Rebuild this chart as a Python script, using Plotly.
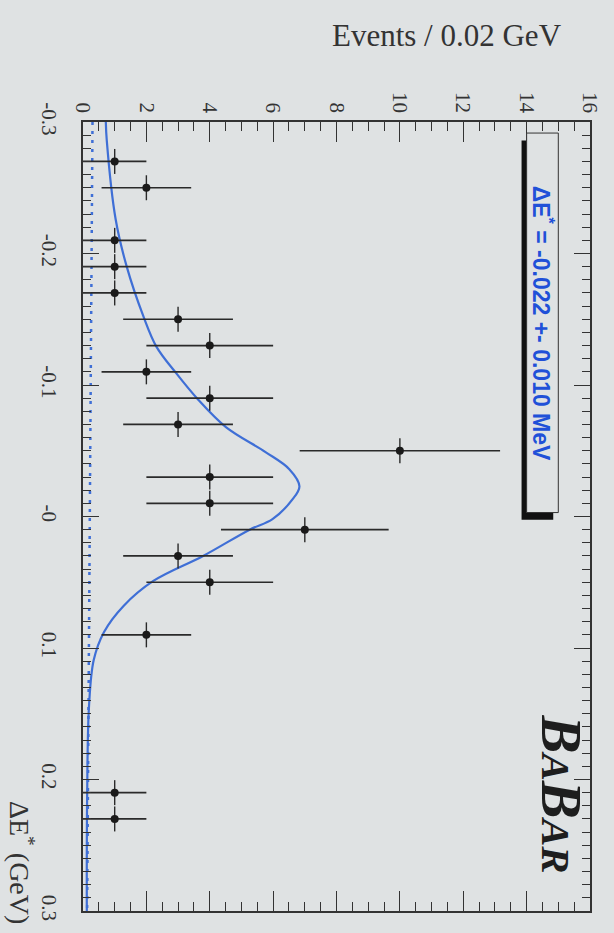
import numpy as np
import plotly.graph_objects as go

# ---- data ----
bin_centers = [-0.29, -0.27, -0.25, -0.23, -0.21, -0.19, -0.17, -0.15, -0.13, -0.11,
               -0.09, -0.07, -0.05, -0.03, -0.01, 0.01, 0.03, 0.05, 0.07, 0.09,
               0.11, 0.13, 0.15, 0.17, 0.19, 0.21, 0.23, 0.25, 0.27, 0.29]
counts = [0, 1, 2, 0, 1, 1, 1, 3, 4, 2,
          4, 3, 10, 4, 4, 7, 3, 4, 0, 2,
          0, 0, 0, 0, 0, 1, 1, 0, 0, 0]

curve_de = [-0.300, -0.286, -0.226, -0.190, -0.152, -0.129, -0.109, -0.089, -0.068,
            -0.049, -0.036, -0.023, -0.013, 0.002, 0.010, 0.030, 0.049, 0.068,
            0.088, 0.109, 0.144, 0.215, 0.300]
curve_n = [0.72, 0.75, 1.03, 1.38, 1.91, 2.32, 2.94, 3.63, 4.51,
           5.76, 6.51, 6.83, 6.61, 5.98, 5.26, 3.79, 2.22, 1.28,
           0.66, 0.34, 0.19, 0.13, 0.12]

bkg_de = [-0.30, 0.30]
bkg_n = [0.30, 0.13]

events_ticks = [0, 2, 4, 6, 8, 10, 12, 14, 16]
de_ticks = [-0.3, -0.2, -0.1, 0.0, 0.1, 0.2, 0.3]
de_ticktext = ["-0.3", "-0.2", "-0.1", "-0", "0.1", "0.2", "0.3"]

fit_label = "ΔE<sup>*</sup> = -0.022 +- 0.010 MeV"

# ---- figure ----
BG = "#dfe2e3"
INK = "#2a2a2a"
BLUE = "#3f6fd6"

pts_de = [d for d, c in zip(bin_centers, counts) if c > 0]
pts_n = [c for c in counts if c > 0]
pts_err = [float(np.sqrt(c)) for c in pts_n]

fig = go.Figure()

fig.add_trace(go.Scatter(
    x=bkg_n, y=bkg_de, mode="lines",
    line=dict(color=BLUE, width=2.5, dash="3px,6px"),
    hoverinfo="skip", showlegend=False))

fig.add_trace(go.Scatter(
    x=curve_n, y=curve_de, mode="lines",
    line=dict(color=BLUE, width=2.2, shape="spline", smoothing=1.0),
    hoverinfo="skip", showlegend=False))

fig.add_trace(go.Scatter(
    x=pts_n, y=pts_de, mode="markers",
    marker=dict(color="#1a1a1a", size=8),
    error_x=dict(type="data", array=pts_err, color=INK, thickness=1.7, width=0),
    error_y=dict(type="constant", value=0.0095, color=INK, thickness=1.4, width=0),
    showlegend=False))

# legend-like box with shadow (in axis coordinates)
fig.add_shape(type="rect", xref="x", yref="y", x0=13.84, x1=14.84, y0=-0.286, y1=0.0025,
              fillcolor="#111111", line=dict(width=0), layer="above")
fig.add_shape(type="rect", xref="x", yref="y", x0=14.0, x1=15.0, y0=-0.2916, y1=-0.003,
              fillcolor=BG, line=dict(color="#333333", width=1), layer="above")

fig.add_annotation(x=14.5, y=-0.147, xref="x", yref="y", text="<b>" + fit_label + "</b>",
                   textangle=90, showarrow=False,
                   font=dict(family="Liberation Sans, Arial", size=23, color="#2050d8"))

fig.add_annotation(x=15.1, y=0.211, xref="x", yref="y",
                   text="<b><i>B<span style='font-size:41px'>A</span>B<span style='font-size:41px'>AR</span></i></b>",
                   textangle=90, showarrow=False,
                   font=dict(family="Liberation Serif, Times New Roman", size=57, color="#1e1e1e"))

fig.add_annotation(x=0.717, y=1.11, xref="paper", yref="paper", yanchor="middle", xanchor="center",
                   text="Events / 0.02 GeV", showarrow=False,
                   font=dict(family="Liberation Serif, Times New Roman", size=31, color="#333333"))

fig.add_annotation(x=-0.12, y=0.062, xref="paper", yref="paper", xanchor="center", yanchor="middle",
                   text="ΔE<sup>*</sup> (GeV)", textangle=90, showarrow=False,
                   font=dict(family="Liberation Serif, Times New Roman", size=28, color="#333333"))

tickfont = dict(family="Liberation Serif, Times New Roman", size=21, color="#333333")

fig.update_layout(
    width=614, height=933,
    margin=dict(l=83, r=19, t=122, b=21),
    paper_bgcolor=BG, plot_bgcolor=BG,
    xaxis=dict(range=[0, 16], side="top", tickmode="array", tickvals=events_ticks,
               ticks="inside", ticklen=20, tickwidth=1.2, tickcolor="#333333",
               minor=dict(dtick=0.5, ticks="inside", ticklen=9, tickcolor="#333333", tickwidth=1),
               tickangle=90, tickfont=tickfont, showgrid=False, zeroline=False,
               showline=True, linecolor="#333333", linewidth=1.5, mirror="allticks"),
    yaxis=dict(range=[0.3, -0.3], tickmode="array", tickvals=de_ticks, ticktext=de_ticktext,
               ticks="inside", ticklen=16, tickwidth=1.2, tickcolor="#333333",
               minor=dict(dtick=0.01, ticks="inside", ticklen=8, tickcolor="#333333", tickwidth=1),
               tickangle=90, tickfont=tickfont, showgrid=False, zeroline=False,
               ticklabelstandoff=14,
               showline=True, linecolor="#333333", linewidth=1.5, mirror="allticks"),
)

fig.write_html("out.html", config={"displayModeBar": False},
               post_script="document.body.style.margin='0px';document.body.style.background='" + BG + "';")
